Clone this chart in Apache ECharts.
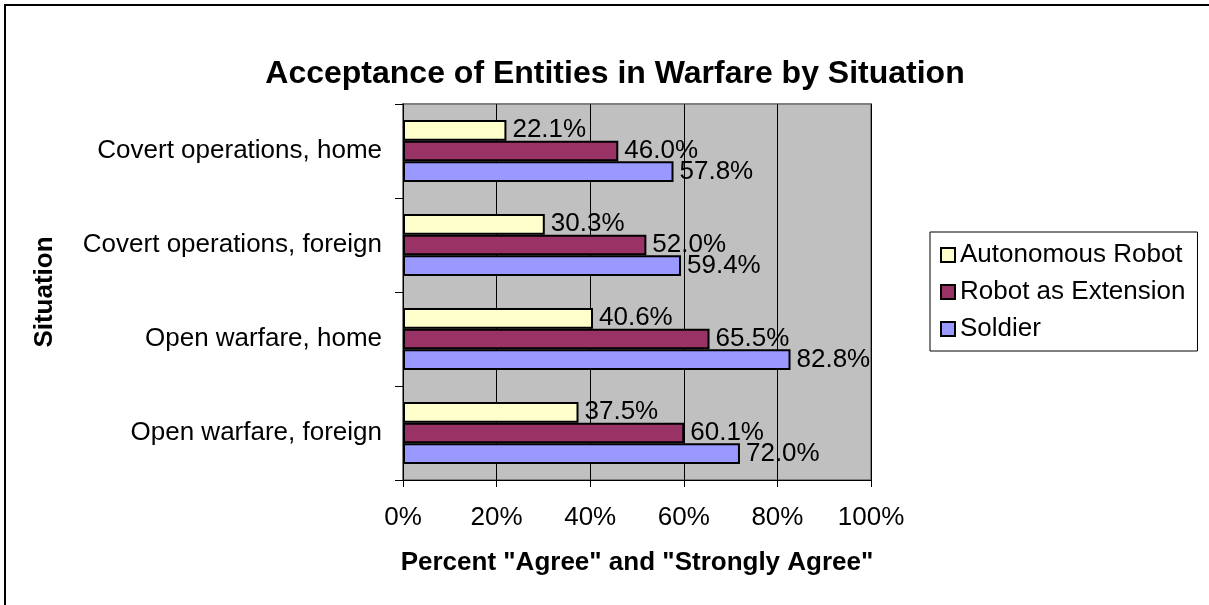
<!DOCTYPE html>
<html>
<head>
<meta charset="utf-8">
<script src="https://cdn.jsdelivr.net/npm/echarts@6/dist/echarts.min.js"></script>
<style>
  html, body { margin: 0; padding: 0; background: #fff; }
  #main { width: 1209px; height: 605px; }
</style>
</head>
<body>
<div id="main"></div>
<script>
// bottom to top, as ECharts draws a category y axis
const situations = ['Open warfare, foreign', 'Open warfare, home', 'Covert operations, foreign', 'Covert operations, home'];
const autonomous = [37.5, 40.6, 30.3, 22.1];
const extension = [60.1, 65.5, 52.0, 46.0];
const soldier = [72.0, 82.8, 59.4, 57.8];
const legendNames = ['Autonomous Robot', 'Robot as Extension', 'Soldier'];

const font = "'Liberation Sans', Arial, sans-serif";

function barSeries(name, data, color) {
  return {
    name: name,
    type: 'bar',
    data: data,
    barGap: '0%',
    barCategoryGap: '34%',
    itemStyle: { color: color, borderColor: '#000', borderWidth: 2 },
    label: {
      show: true,
      position: 'right',
      distance: 6,
      color: '#000',
      fontSize: 26,
      fontFamily: font,
      formatter: p => p.value.toFixed(1) + '%'
    }
  };
}

let myChart = echarts.init(document.getElementById('main'));
myChart.setOption({
  animation: false,
  textStyle: { fontFamily: font },
  title: {
    text: 'Acceptance of Entities in Warfare by Situation',
    left: 610,
    textAlign: 'center',
    top: 53,
    textStyle: { fontSize: 32, fontWeight: 'bold', color: '#000', fontFamily: font }
  },
  legend: {
    data: legendNames,
    orient: 'vertical',
    left: 930,
    top: 232,
    width: 266,
    padding: [10, 12, 9, 10],
    itemGap: 11,
    itemWidth: 14,
    itemHeight: 14,
    borderColor: '#000',
    borderWidth: 1,
    icon: 'rect',
    textStyle: { fontSize: 26, color: '#000', fontFamily: font }
  },
  grid: {
    left: 403,
    right: 338,
    top: 104,
    bottom: 125,
    show: true,
    backgroundColor: '#C0C0C0',
    borderColor: '#808080',
    borderWidth: 2
  },
  xAxis: {
    type: 'value',
    min: 0,
    max: 100,
    interval: 20,
    name: 'Percent "Agree" and "Strongly Agree"',
    nameLocation: 'middle',
    nameGap: 70,
    nameTextStyle: { fontSize: 26, fontWeight: 'bold', color: '#000', fontFamily: font },
    axisLine: { show: true, lineStyle: { color: '#000', width: 1 } },
    axisTick: { show: true, length: 7, lineStyle: { color: '#000' } },
    axisLabel: { formatter: '{value}%', fontSize: 26, color: '#000', margin: 25, fontFamily: font },
    splitLine: { show: true, lineStyle: { color: '#000', width: 1 } }
  },
  yAxis: {
    type: 'category',
    data: situations,
    name: 'Situation',
    nameLocation: 'middle',
    nameGap: 345,
    nameTextStyle: { fontSize: 26, fontWeight: 'bold', color: '#000', fontFamily: font },
    axisLine: { show: true, lineStyle: { color: '#000', width: 1 } },
    axisTick: { show: true, length: 8, lineStyle: { color: '#000' } },
    axisLabel: { fontSize: 26, color: '#000', margin: 21, fontFamily: font }
  },
  // first series is drawn at the top of each band
  series: [
    barSeries('Autonomous Robot', autonomous, '#FFFFCC'),
    barSeries('Robot as Extension', extension, '#993366'),
    barSeries('Soldier', soldier, '#9999FF')
  ],
  graphic: [{
    type: 'rect',
    shape: { x: 5, y: 5, width: 1220, height: 620 },
    style: { fill: null, stroke: '#000', lineWidth: 2 },
    silent: true
  }]
});
</script>
</body>
</html>
